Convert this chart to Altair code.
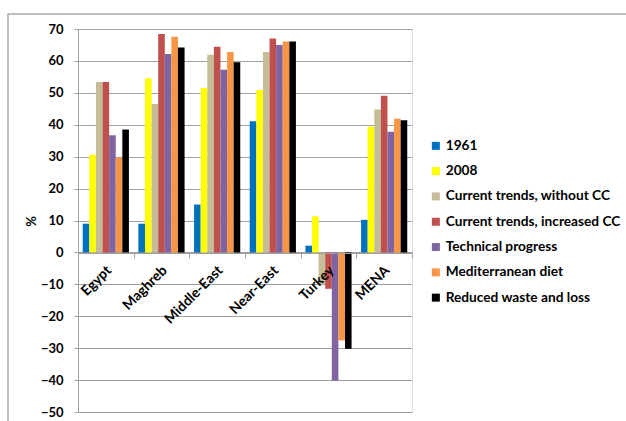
import altair as alt
import pandas as pd

regions = ["Egypt", "Maghreb", "Middle-East", "Near-East", "Turkey", "MENA"]
series = ["1961", "2008", "Current trends, without CC", "Current trends, increased CC",
          "Technical progress", "Mediterranean diet", "Reduced waste and loss"]
colors = ["#0070C0", "#FFFF00", "#C4BD97", "#C0504D", "#8064A2", "#F79646", "#000000"]

v_1961 = [9.0, 9.0, 15.0, 41.1, 2.1, 10.2]
v_2008 = [30.6, 54.6, 51.5, 50.9, 11.3, 39.4]
v_ct_without = [53.4, 46.5, 61.9, 62.8, -10.0, 44.8]
v_ct_increased = [53.4, 68.4, 64.4, 67.0, -11.4, 49.1]
v_tech = [36.7, 62.2, 57.2, 65.0, -40.2, 37.8]
v_med = [29.6, 67.6, 62.8, 66.1, -27.6, 41.9]
v_reduced = [38.5, 64.2, 59.6, 66.1, -30.2, 41.4]

all_vals = [v_1961, v_2008, v_ct_without, v_ct_increased, v_tech, v_med, v_reduced]
rows = []
for s, vals in zip(series, all_vals):
    for r, v in zip(regions, vals):
        rows.append({"region": r, "series": s, "value": v})
df = pd.DataFrame(rows)

FONT = "Lato"

bars = alt.Chart(df).mark_bar().encode(
    x=alt.X("region:N", sort=regions,
            scale=alt.Scale(paddingInner=0, paddingOuter=0),
            axis=alt.Axis(title=None, labelAngle=-45, labelAlign="right", labelBaseline="top",
                          offset=-159, tickBand="extent", tickSize=5, tickColor="#a0a0a0",
                          domainColor="#a0a0a0", labelFont=FONT, labelFontWeight="bold",
                          labelFontSize=14, labelColor="#000000", labelPadding=5,
                          labelOffset=-2, grid=False, zindex=1)),
    xOffset=alt.XOffset("series:N", sort=series,
                        scale=alt.Scale(paddingInner=0, paddingOuter=0.72)),
    y=alt.Y("value:Q",
            scale=alt.Scale(domain=[-50, 70], nice=False, zero=False),
            axis=alt.Axis(values=list(range(-50, 80, 10)), title="%", titleAngle=270,
                          titleX=-40, titleY=192, titleFont=FONT, titleFontSize=13,
                          titleFontWeight="bold", titleColor="#000000",
                          labelFont=FONT, labelFontWeight="bold", labelFontSize=13,
                          labelColor="#000000", labelPadding=11, tickSize=4,
                          tickColor="#a0a0a0", domainColor="#a0a0a0",
                          gridColor="#a0a0a0", gridWidth=1)),
    color=alt.Color("series:N", sort=series,
                    scale=alt.Scale(domain=series, range=colors),
                    legend=alt.Legend(title=None, orient="none", legendX=351, legendY=110,
                                      symbolType="square", symbolSize=64, symbolStrokeWidth=0,
                                      labelFont=FONT, labelFontWeight="bold", labelFontSize=13.7,
                                      labelColor="#000000", rowPadding=10.3, labelOffset=3,
                                      padding=0, labelLimit=300))
)

frame = alt.Chart(alt.Data(values=[{}])).mark_rect(
    fill=None, stroke="#a8a8a8", strokeWidth=1.5
).encode(x=alt.value(-70), x2=alt.value(800), y=alt.value(-15), y2=alt.value(600))

chart = alt.layer(frame, bars).properties(
    width=334, height=383,
    autosize=alt.AutoSizeParams(type="none"),
    padding={"left": 78, "top": 29, "right": 214, "bottom": 9}
).configure_view(stroke=None).configure(background="white")

chart.save("out.html", embed_options={"renderer": "svg", "actions": False})
